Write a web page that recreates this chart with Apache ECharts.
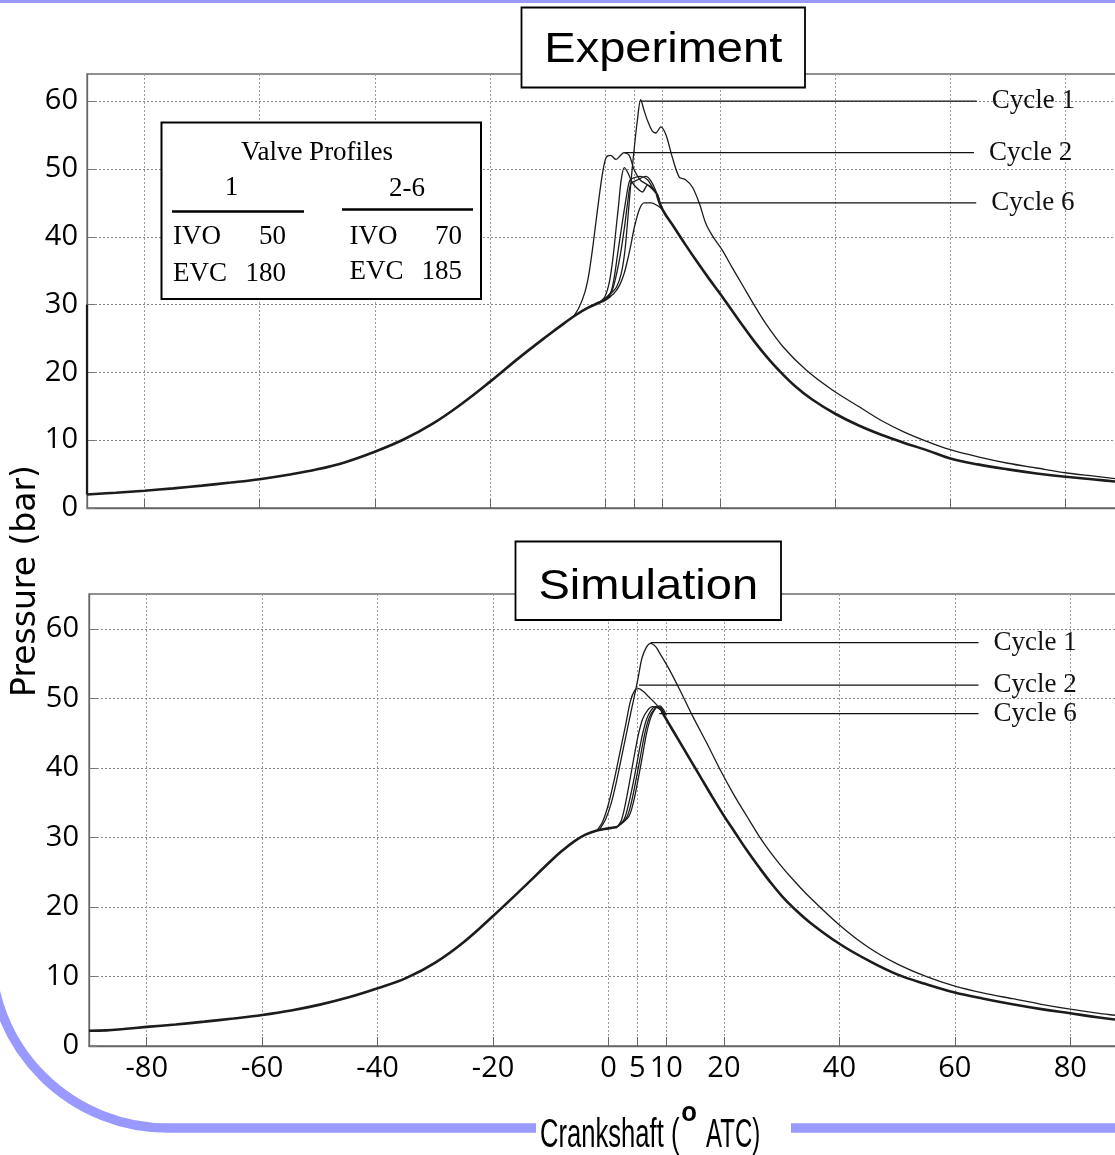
<!DOCTYPE html>
<html>
<head>
<meta charset="utf-8">
<script src="https://cdn.jsdelivr.net/npm/echarts@6/dist/echarts.min.js"></script>
<style>
  html, body { margin: 0; padding: 0; background: #ffffff; }
  #chart { width: 1115px; height: 1155px; }
</style>
</head>
<body>
<div id="chart"></div>
<script>
// Crank angle positions that carry a tick, a label and a vertical grid line
const crankTicks = [-80, -60, -40, -20, 0, 5, 10, 20, 40, 60, 80];

// ---------- Experiment: cylinder pressure (bar) vs crank angle (deg ATC) ----------
// trace start (pen drop at the left edge)
const expStartSegment = [[-90, 30.0], [-90, 2.0]];
// compression stroke, common to every cycle
const expCompression = [
  [-90, 2.0], [-85, 2.25], [-80, 2.55], [-75, 2.9], [-70, 3.3], [-65, 3.75], [-60, 4.25],
  [-55, 4.9], [-50, 5.7], [-45, 6.8], [-40, 8.3], [-35, 10.1], [-30, 12.4], [-25, 15.3],
  [-20, 18.6], [-15, 22.1], [-10, 25.4], [-7, 27.3], [-5, 28.5], [-3, 29.5], [-1, 30.3],
  [0, 30.7], [1, 31.3]
];
const expCycle1 = [
  [-1, 30.3], [0, 30.9], [1, 31.6], [2, 32.6], [2.8, 34.5], [3.4, 37.5], [3.9, 42.0],
  [4.5, 48.0], [5.1, 53.2], [5.6, 57.0], [6.2, 60.2], [6.8, 58.6], [7.4, 57.1], [8.2, 55.6],
  [8.8, 55.3], [9.7, 56.2], [10.6, 55.0], [11.7, 51.7], [12.9, 48.8], [14, 48.4],
  [15.2, 47.3], [16.4, 44.9], [17.5, 42.0], [18.7, 40.1], [20.4, 38.0], [22, 35.6],
  [24, 32.7], [26, 29.8], [28, 27.1], [31, 23.7], [35, 20.3], [39.5, 17.4], [44, 15.0],
  [48, 12.9], [52, 11.2], [56, 9.8], [60, 8.6], [65, 7.5], [70, 6.6], [75, 5.9],
  [80, 5.2], [85, 4.7], [90, 4.2]
];
const expCycle2 = [
  [-5.5, 28.2], [-4.5, 29.6], [-3.5, 31.8], [-2.8, 34.5], [-2.2, 38.0], [-1.6, 42.0],
  [-1, 46.0], [-0.4, 49.5], [0.2, 51.7], [1, 52.0], [1.9, 51.4], [2.6, 51.9], [3.3, 52.4],
  [4.2, 52.0], [5.1, 49.8], [6.2, 48.3], [7.5, 47.6], [9, 46.3]
];
const expCycle3 = [
  [-1, 30.3], [0, 31.2], [0.8, 33.5], [1.4, 37.0], [1.9, 41.0], [2.4, 45.0], [2.8, 48.3],
  [3.35, 50.2], [4.0, 49.4], [4.6, 48.2], [5.4, 47.3], [6.5, 46.6], [7.4, 47.6],
  [8.2, 47.2], [9, 46.3]
];
const expCycle4 = [
  [0, 30.8], [1, 31.8], [1.6, 34.0], [2.2, 37.5], [2.9, 41.5], [3.6, 45.3], [4.3, 48.3],
  [5.1, 48.7], [6.2, 48.9], [7.4, 48.4], [8.3, 47.2], [9, 46.3]
];
const expCycle5 = [
  [0, 30.8], [1.2, 32.0], [2, 34.5], [2.7, 37.5], [3.4, 41.5], [3.9, 44.8], [4.5, 47.8],
  [5.7, 48.4], [7.1, 48.9], [8, 48.2], [8.8, 46.8], [9.5, 45.4]
];
const expCycle6 = [
  [0.5, 31.0], [1.5, 31.6], [2.5, 32.8], [3.3, 34.5], [3.9, 36.5], [4.5, 38.8], [5.1, 41.4],
  [6, 44.1], [6.8, 45.0], [8, 45.0], [9.1, 44.6], [10, 44.0]
];
// expansion stroke shared by cycles 2 to 6
const expExpansion = [
  [9, 46.3], [10, 44.0], [12, 41.4], [14, 38.8], [16, 36.3], [18, 33.9], [20, 31.6],
  [22, 29.2], [24, 26.8], [26, 24.5], [28, 22.4], [30, 20.5], [33, 18.0], [36, 16.0],
  [40, 13.9], [44, 12.2], [48, 10.8], [52, 9.6], [56, 8.5], [60, 7.3], [65, 6.4],
  [70, 5.7], [75, 5.1], [80, 4.6], [85, 4.2], [90, 3.8]
];
// callouts: [label, start angle, end angle, pressure]
const expCallouts = [
  ['Cycle 1', 6.3, 64.6, 60.0],
  ['Cycle 2', 3.4, 64.1, 52.4],
  ['Cycle 6', 9.6, 64.5, 45.0]
];

// ---------- Simulation ----------
const simCompression = [
  [-90, 2.2], [-87, 2.25], [-84, 2.45], [-80, 2.75], [-75, 3.1], [-70, 3.5], [-65, 3.95],
  [-60, 4.45], [-55, 5.1], [-50, 5.95], [-45, 7.0], [-40, 8.3], [-35, 9.8], [-30, 12.0],
  [-25, 15.0], [-20, 18.7], [-15, 22.6], [-10, 26.6], [-8, 28.1], [-6, 29.4], [-4, 30.4],
  [-2, 31.0], [0, 31.3], [1.5, 31.5]
];
const simCycle1 = [
  [-1.5, 31.2], [-0.5, 32.6], [0.5, 35.0], [1.5, 38.5], [2.5, 42.5], [3.5, 46.5], [4.4, 50.0],
  [5.1, 52.8], [5.8, 55.8], [6.6, 57.4], [7.3, 57.9], [8.2, 57.4], [8.8, 56.6], [10.5, 54.2],
  [12.3, 51.3], [14.6, 47.4], [17, 43.6], [19.3, 39.8], [21.6, 36.3], [24, 33.0],
  [26, 30.3], [28, 27.9], [30, 25.8], [32, 23.9], [34.6, 21.6], [40, 17.4], [45, 14.2],
  [50, 11.8], [55, 10.0], [60, 8.6], [65, 7.6], [70, 6.8], [75, 6.0], [80, 5.3],
  [85, 4.7], [90, 4.2]
];
const simCycle2 = [
  [-2, 31.0], [-1, 32.3], [0, 34.8], [1, 38.3], [2, 42.3], [3, 46.3], [3.8, 49.6],
  [4.6, 51.2], [5.2, 51.4], [6, 51.0], [7, 50.2], [8.2, 49.2], [9.2, 48.2]
];
const simCycle3 = [
  [1.5, 31.5], [2.2, 32.4], [2.8, 34.3], [3.5, 37.3], [4.3, 41.0], [5.1, 44.5], [5.9, 47.0],
  [6.8, 48.3], [7.6, 48.8], [8.4, 48.7], [9.2, 48.2]
];
const simCycle4 = [
  [1.5, 31.5], [2.7, 32.6], [3.4, 34.5], [4.2, 37.5], [5.0, 41.0], [5.8, 44.5], [6.6, 47.0],
  [7.4, 48.3], [8.2, 48.8], [9.0, 48.6], [9.5, 48.0]
];
const simCycle5 = [
  [1.5, 31.5], [3.1, 32.8], [3.9, 34.8], [4.7, 38.0], [5.5, 41.5], [6.3, 45.0], [7.1, 47.3],
  [7.9, 48.4], [8.6, 48.8], [9.3, 48.4], [9.8, 47.6]
];
const simCycle6 = [
  [1.5, 31.5], [3.5, 33.0], [4.3, 35.0], [5.1, 38.2], [5.9, 41.8], [6.6, 45.0], [7.4, 47.4],
  [8.2, 48.6], [8.9, 48.9], [9.5, 48.4], [10, 47.6]
];
const simExpansion = [
  [9.2, 48.2], [10, 47.0], [12, 44.2], [14, 41.4], [16, 38.6], [18, 35.8], [20, 33.1],
  [22, 30.6], [24, 28.1], [26, 25.8], [28, 23.6], [30, 21.6], [32, 19.9], [35, 17.7],
  [40, 14.7], [45, 12.3], [50, 10.3], [55, 8.9], [60, 7.7], [65, 6.8], [70, 6.0],
  [75, 5.3], [80, 4.7], [85, 4.1], [90, 3.6]
];
const simCallouts = [
  ['Cycle 1', 7.3, 64.1, 58.0],
  ['Cycle 2', 5.3, 64.1, 51.9],
  ['Cycle 6', 8.8, 64.1, 47.8]
];

// ---------- styling ----------
const INK = '#1c1c1c';
const FRAME = '#9999ff';
const NUM_FONT = 'Open Sans';
const SERIF = 'Liberation Serif';

function curve(name, data, idx, width, smoothness) {
  return {
    type: 'line', name: name, data: data,
    xAxisIndex: idx, yAxisIndex: idx,
    symbol: 'none', smooth: smoothness, silent: true, z: 3,
    lineStyle: { color: INK, width: width }
  };
}
function callout(c, idx) {
  return {
    type: 'line', name: c[0],
    data: [[c[1], c[3]], [c[2], c[3]]],
    xAxisIndex: idx, yAxisIndex: idx,
    symbol: 'none', silent: true, z: 4,
    lineStyle: { color: '#111', width: 1.3 },
    endLabel: {
      show: true, formatter: function (p) { return p.seriesName; },
      distance: 15, fontFamily: SERIF, fontSize: 27, color: '#111'
    }
  };
}

function xAxisFor(idx, showLabels) {
  return {
    type: 'value', gridIndex: idx, min: -90, max: 90,
    axisLine: { show: true, onZero: false, lineStyle: { color: '#666', width: 1.3 } },
    axisTick: { show: true, inside: true, length: 9, customValues: crankTicks,
                lineStyle: { color: '#666', width: 1 } },
    axisLabel: { show: showLabels, customValues: crankTicks, margin: 8,
                 fontFamily: NUM_FONT, fontSize: 29, color: '#000' },
    splitLine: { show: true, lineStyle: { color: '#9a9a9a', width: 1, type: [2, 2] } }
  };
}
function yAxisFor(idx, max, margin) {
  return {
    type: 'value', gridIndex: idx, min: 0, max: max, interval: 10,
    axisLine: { show: true, onZero: false, lineStyle: { color: '#666', width: 1.3 } },
    axisTick: { show: true, inside: true, length: 8, lineStyle: { color: '#777' } },
    axisLabel: { margin: margin, showMaxLabel: false,
                 fontFamily: NUM_FONT, fontSize: 29, color: '#000' },
    splitLine: { show: true, lineStyle: { color: '#8a8a8a', width: 1, type: [2, 2] } }
  };
}

const series = [
  curve('start', expStartSegment, 0, 2.2, false),
  curve('compression', expCompression, 0, 2.6, 0.4),
  curve('Cycle 1', expCycle1, 0, 1.3, 0.3),
  curve('Cycle 2', expCycle2, 0, 1.3, 0.3),
  curve('Cycle 3', expCycle3, 0, 1.3, 0.3),
  curve('Cycle 4', expCycle4, 0, 1.3, 0.3),
  curve('Cycle 5', expCycle5, 0, 1.3, 0.3),
  curve('Cycle 6', expCycle6, 0, 1.3, 0.3),
  curve('expansion', expExpansion, 0, 2.6, 0.4),
  curve('compression', simCompression, 1, 2.6, 0.4),
  curve('Cycle 1', simCycle1, 1, 1.3, 0.3),
  curve('Cycle 2', simCycle2, 1, 1.3, 0.3),
  curve('Cycle 3', simCycle3, 1, 1.3, 0.3),
  curve('Cycle 4', simCycle4, 1, 1.3, 0.3),
  curve('Cycle 5', simCycle5, 1, 1.3, 0.3),
  curve('Cycle 6', simCycle6, 1, 1.3, 0.3),
  curve('expansion', simExpansion, 1, 2.6, 0.4)
];
expCallouts.forEach(function (c) { series.push(callout(c, 0)); });
simCallouts.forEach(function (c) { series.push(callout(c, 1)); });

// framed panel titles and the valve table
function boxedTitle(text, x0, y0, x1, y1, cy) {
  return [
    { type: 'rect', z: 100, shape: { x: x0, y: y0, width: x1 - x0, height: y1 - y0 },
      style: { fill: '#fff', stroke: '#000', lineWidth: 1.8 } },
    { type: 'text', z: 101, x: (x0 + x1) / 2, y: cy, scaleX: 1.12,
      style: { text: text, font: '42px "Liberation Sans", Arial, sans-serif', fill: '#000',
               textAlign: 'center', textVerticalAlign: 'middle' } }
  ];
}
function serifText(text, x, y, align) {
  return { type: 'text', z: 101, x: x, y: y,
           style: { text: text, font: '27px "Liberation Serif", "Times New Roman", serif',
                    fill: '#000', textAlign: align, textVerticalAlign: 'middle' } };
}

const graphics = [].concat(
  // decorative frame
  [
    { type: 'rect', z: 90, shape: { x: 0, y: 0, width: 1115, height: 3 }, style: { fill: FRAME } },
    { type: 'arc', z: 90, shape: { cx: 167.6, cy: 951, r: 177, startAngle: Math.PI / 2, endAngle: Math.PI },
      style: { stroke: FRAME, lineWidth: 9.5, fill: null } },
    { type: 'line', z: 90, shape: { x1: 167, y1: 1128, x2: 536, y2: 1128 },
      style: { stroke: FRAME, lineWidth: 9.5 } },
    { type: 'line', z: 90, shape: { x1: 791, y1: 1128, x2: 1115, y2: 1128 },
      style: { stroke: FRAME, lineWidth: 9.5 } }
  ],
  boxedTitle('Experiment', 521.5, 7.5, 805, 87.5, 50.5),
  boxedTitle('Simulation', 515.5, 541.5, 781, 620, 587),
  [
    { type: 'rect', z: 100, shape: { x: 161.5, y: 122.5, width: 319.5, height: 176.5 },
      style: { fill: '#fff', stroke: '#000', lineWidth: 2 } },
    serifText('Valve Profiles', 317, 153, 'center'),
    serifText('1', 231.5, 188, 'center'),
    serifText('2-6', 407, 188.5, 'center'),
    { type: 'line', z: 101, shape: { x1: 172, y1: 211.5, x2: 304, y2: 211.5 },
      style: { stroke: '#000', lineWidth: 2.5 } },
    { type: 'line', z: 101, shape: { x1: 342, y1: 209.5, x2: 473, y2: 209.5 },
      style: { stroke: '#000', lineWidth: 2.5 } },
    serifText('IVO', 173, 237, 'left'),
    serifText('50', 286, 237, 'right'),
    serifText('EVC', 173, 273.5, 'left'),
    serifText('180', 286, 273.5, 'right'),
    serifText('IVO', 349.5, 237, 'left'),
    serifText('70', 462, 237, 'right'),
    serifText('EVC', 349.5, 271.5, 'left'),
    serifText('185', 462, 271.5, 'right')
  ],
  // axis titles
  [
    { type: 'text', z: 101, x: 26, y: 581, rotation: Math.PI / 2,
      style: { text: 'Pressure (bar)', font: '33px "DejaVu Sans", Verdana, sans-serif', fill: '#000',
               textAlign: 'center', textVerticalAlign: 'middle' } },
    { type: 'text', z: 101, x: 540, y: 1136, scaleX: 0.64,
      style: { text: 'Crankshaft (', font: '40px "Liberation Sans", Arial, sans-serif', fill: '#000',
               textAlign: 'left', textVerticalAlign: 'middle' } },
    { type: 'text', z: 101, x: 689, y: 1114, scaleX: 0.95,
      style: { text: 'o', font: 'bold 27px "Liberation Sans", Arial, sans-serif', fill: '#000',
               textAlign: 'center', textVerticalAlign: 'middle' } },
    { type: 'text', z: 101, x: 706, y: 1136, scaleX: 0.6,
      style: { text: 'ATC)', font: '40px "Liberation Sans", Arial, sans-serif', fill: '#000',
               textAlign: 'left', textVerticalAlign: 'middle' } }
  ]
);

const chart = echarts.init(document.getElementById('chart'), null, { renderer: 'canvas' });
chart.setOption({
  animation: false,
  backgroundColor: '#ffffff',
  grid: [
    { left: 87, top: 74, width: 1036, height: 434, show: true, borderColor: '#6e6e6e',
      borderWidth: 1.3, outerBoundsMode: 'none', containLabel: false },
    { left: 89, top: 594, width: 1039, height: 452, show: true, borderColor: '#6e6e6e',
      borderWidth: 1.3, outerBoundsMode: 'none', containLabel: false }
  ],
  xAxis: [xAxisFor(0, false), xAxisFor(1, true)],
  yAxis: [yAxisFor(0, 64, 9), yAxisFor(1, 65, 10)],
  series: series,
  graphic: graphics
});
</script>
</body>
</html>
